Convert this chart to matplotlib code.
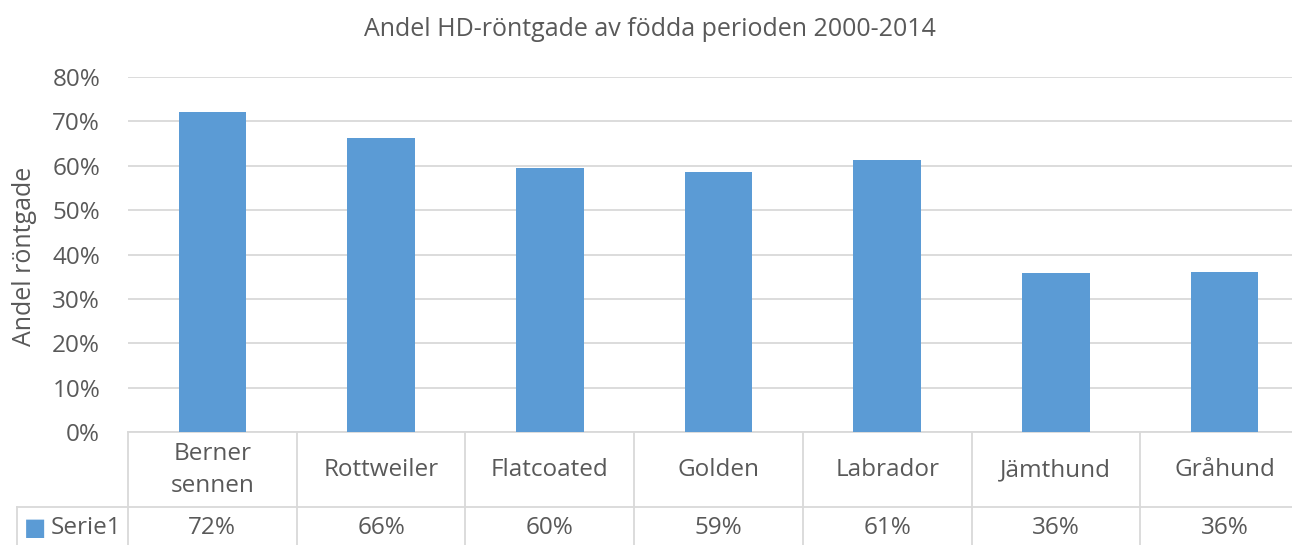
import numpy as np
import matplotlib.pyplot as plt
from matplotlib.transforms import blended_transform_factory

plt.rcParams['font.family'] = ['Open Sans', 'DejaVu Sans']

raser = ['Berner\nsennen', 'Rottweiler', 'Flatcoated', 'Golden', 'Labrador', 'Jämthund', 'Gråhund']
andel = [0.721, 0.662, 0.596, 0.586, 0.614, 0.358, 0.360]
serie = 'Serie1'

txt = '#595959'
grid = '#d9d9d9'
blue = '#5b9bd5'
fs = 17.5

fig = plt.figure(figsize=(12.92, 5.45), dpi=100)
ax = fig.add_axes([128/1292, 1-432/545, 1181/1292, 355/545])

x = np.arange(len(raser))
ax.bar(x, andel, width=0.40, color=blue, zorder=3)
ax.set_xlim(-0.5, len(raser)-0.5)
ax.set_ylim(0, 0.8)
ax.set_yticks(np.arange(0, 0.81, 0.1))
ax.set_yticklabels(['%d%%' % round(v*100) for v in np.arange(0, 0.81, 0.1)])
ax.yaxis.grid(True, color=grid, lw=1.3, zorder=0)
ax.set_xticks([])
ax.tick_params(axis='y', length=0, pad=20, labelsize=fs, labelcolor=txt)
for s in ['left', 'right', 'top']:
    ax.spines[s].set_visible(False)
ax.spines['bottom'].set_color(grid)
ax.spines['bottom'].set_linewidth(1.3)
fig.text(25/1292, 1-256/545, 'Andel röntgade', rotation=90, ha='center', va='center',
         fontsize=18, color=txt)
fig.text(650/1292, 1-30/545, 'Andel HD-röntgade av födda perioden 2000-2014',
         ha='center', va='center', fontsize=18, color=txt)

# data table under the axis
tr = blended_transform_factory(ax.transData, ax.transAxes)
row1 = -75/355
bot = -113/355
for b in np.arange(-0.5, len(raser), 1):
    ax.plot([b, b], [0, bot], transform=tr, color=grid, lw=1.3, clip_on=False)
ax.plot([-0.5 - 111/168.7, len(raser)-0.5], [row1, row1], transform=tr,
        color=grid, lw=1.3, clip_on=False)
ax.plot([-0.5 - 111/168.7]*2, [row1, bot], transform=tr, color=grid, lw=1.3, clip_on=False)
for i, (r, v) in enumerate(zip(raser, andel)):
    ax.text(i, -38/355, r, transform=tr, ha='center', va='center',
            fontsize=fs, color=txt, linespacing=1.45)
    ax.text(i, -96/355, '%d%%' % round(v*100), transform=tr, ha='center',
            va='center', fontsize=fs, color=txt)
fig.text(24/1292, 1-529/545, '\u25a0', fontsize=17, color=blue, ha='left', va='center')
fig.text(51/1292, 1-528/545, serie, fontsize=fs, color=txt, ha='left', va='center')

fig.savefig('out.png', dpi=100)
